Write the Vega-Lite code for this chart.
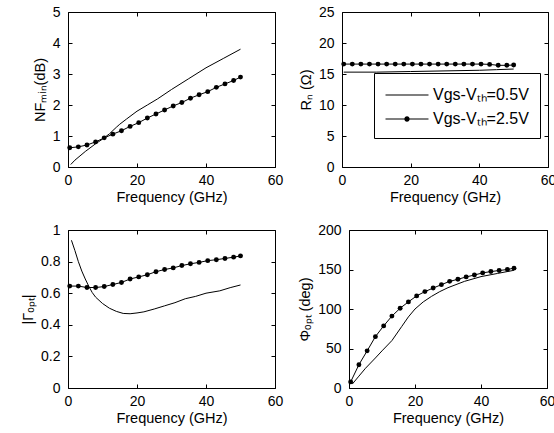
{
  "$schema": "https://vega.github.io/schema/vega-lite/v6.json",
  "padding": {"left": 20, "top": 4, "right": 5, "bottom": 5},
  "background": "white",
  "datasets": {
    "nf": [
      {"s": "0.5", "f": 0.8, "v": 0.08}, {"s": "0.5", "f": 2, "v": 0.22}, {"s": "0.5", "f": 5, "v": 0.5}, {"s": "0.5", "f": 8, "v": 0.75},
      {"s": "0.5", "f": 10, "v": 0.9}, {"s": "0.5", "f": 12, "v": 1.07}, {"s": "0.5", "f": 14, "v": 1.28}, {"s": "0.5", "f": 15, "v": 1.38},
      {"s": "0.5", "f": 17, "v": 1.55}, {"s": "0.5", "f": 20, "v": 1.8}, {"s": "0.5", "f": 23, "v": 2.0}, {"s": "0.5", "f": 26, "v": 2.2},
      {"s": "0.5", "f": 30, "v": 2.5}, {"s": "0.5", "f": 35, "v": 2.85}, {"s": "0.5", "f": 40, "v": 3.2}, {"s": "0.5", "f": 45, "v": 3.5}, {"s": "0.5", "f": 50, "v": 3.8},
      {"s": "2.5", "f": 0.5, "v": 0.62}, {"s": "2.5", "f": 3, "v": 0.65}, {"s": "2.5", "f": 5.5, "v": 0.71}, {"s": "2.5", "f": 8, "v": 0.81},
      {"s": "2.5", "f": 10.5, "v": 0.94}, {"s": "2.5", "f": 13, "v": 1.06}, {"s": "2.5", "f": 15.5, "v": 1.17}, {"s": "2.5", "f": 18, "v": 1.31},
      {"s": "2.5", "f": 20.5, "v": 1.43}, {"s": "2.5", "f": 23, "v": 1.58}, {"s": "2.5", "f": 25.5, "v": 1.71}, {"s": "2.5", "f": 28, "v": 1.84},
      {"s": "2.5", "f": 30.5, "v": 1.97}, {"s": "2.5", "f": 33, "v": 2.08}, {"s": "2.5", "f": 35.5, "v": 2.22}, {"s": "2.5", "f": 38, "v": 2.33},
      {"s": "2.5", "f": 40.5, "v": 2.43}, {"s": "2.5", "f": 43, "v": 2.57}, {"s": "2.5", "f": 45.5, "v": 2.68}, {"s": "2.5", "f": 48, "v": 2.79}, {"s": "2.5", "f": 50, "v": 2.9}
    ],
    "rn": [
      {"s": "0.5", "f": 0.5, "v": 15.3}, {"s": "0.5", "f": 10, "v": 15.3}, {"s": "0.5", "f": 20, "v": 15.4}, {"s": "0.5", "f": 30, "v": 15.5},
      {"s": "0.5", "f": 40, "v": 15.6}, {"s": "0.5", "f": 45, "v": 15.7}, {"s": "0.5", "f": 50, "v": 15.8},
      {"s": "2.5", "f": 0.5, "v": 16.6}, {"s": "2.5", "f": 3, "v": 16.6}, {"s": "2.5", "f": 5.5, "v": 16.6}, {"s": "2.5", "f": 8, "v": 16.6},
      {"s": "2.5", "f": 10.5, "v": 16.6}, {"s": "2.5", "f": 13, "v": 16.6}, {"s": "2.5", "f": 15.5, "v": 16.6}, {"s": "2.5", "f": 18, "v": 16.6},
      {"s": "2.5", "f": 20.5, "v": 16.6}, {"s": "2.5", "f": 23, "v": 16.6}, {"s": "2.5", "f": 25.5, "v": 16.6}, {"s": "2.5", "f": 28, "v": 16.6},
      {"s": "2.5", "f": 30.5, "v": 16.6}, {"s": "2.5", "f": 33, "v": 16.6}, {"s": "2.5", "f": 35.5, "v": 16.6}, {"s": "2.5", "f": 38, "v": 16.6},
      {"s": "2.5", "f": 40.5, "v": 16.6}, {"s": "2.5", "f": 43, "v": 16.55}, {"s": "2.5", "f": 45.5, "v": 16.4}, {"s": "2.5", "f": 48, "v": 16.4}, {"s": "2.5", "f": 50, "v": 16.45}
    ],
    "g": [
      {"s": "0.5", "f": 1, "v": 0.935}, {"s": "0.5", "f": 2, "v": 0.87}, {"s": "0.5", "f": 3, "v": 0.8}, {"s": "0.5", "f": 4, "v": 0.74},
      {"s": "0.5", "f": 5, "v": 0.69}, {"s": "0.5", "f": 6, "v": 0.645}, {"s": "0.5", "f": 7, "v": 0.605}, {"s": "0.5", "f": 8, "v": 0.575},
      {"s": "0.5", "f": 10, "v": 0.535}, {"s": "0.5", "f": 12, "v": 0.505}, {"s": "0.5", "f": 14, "v": 0.485}, {"s": "0.5", "f": 16, "v": 0.472},
      {"s": "0.5", "f": 18, "v": 0.47}, {"s": "0.5", "f": 20, "v": 0.475}, {"s": "0.5", "f": 22, "v": 0.482}, {"s": "0.5", "f": 25, "v": 0.5},
      {"s": "0.5", "f": 28, "v": 0.52}, {"s": "0.5", "f": 31, "v": 0.54}, {"s": "0.5", "f": 34, "v": 0.565}, {"s": "0.5", "f": 37, "v": 0.58},
      {"s": "0.5", "f": 40, "v": 0.6}, {"s": "0.5", "f": 44, "v": 0.615}, {"s": "0.5", "f": 47, "v": 0.635}, {"s": "0.5", "f": 50, "v": 0.652},
      {"s": "2.5", "f": 0.5, "v": 0.645}, {"s": "2.5", "f": 3, "v": 0.645}, {"s": "2.5", "f": 5.5, "v": 0.636}, {"s": "2.5", "f": 8, "v": 0.636},
      {"s": "2.5", "f": 10.5, "v": 0.642}, {"s": "2.5", "f": 13, "v": 0.655}, {"s": "2.5", "f": 15.5, "v": 0.668}, {"s": "2.5", "f": 18, "v": 0.69},
      {"s": "2.5", "f": 20.5, "v": 0.703}, {"s": "2.5", "f": 23, "v": 0.717}, {"s": "2.5", "f": 25.5, "v": 0.736}, {"s": "2.5", "f": 28, "v": 0.75},
      {"s": "2.5", "f": 30.5, "v": 0.76}, {"s": "2.5", "f": 33, "v": 0.775}, {"s": "2.5", "f": 35.5, "v": 0.786}, {"s": "2.5", "f": 38, "v": 0.795},
      {"s": "2.5", "f": 40.5, "v": 0.806}, {"s": "2.5", "f": 43, "v": 0.812}, {"s": "2.5", "f": 45.5, "v": 0.82}, {"s": "2.5", "f": 48, "v": 0.828}, {"s": "2.5", "f": 50, "v": 0.836}
    ],
    "ph": [
      {"s": "0.5", "f": 1, "v": 5}, {"s": "0.5", "f": 3, "v": 15}, {"s": "0.5", "f": 5, "v": 25}, {"s": "0.5", "f": 8, "v": 38},
      {"s": "0.5", "f": 10, "v": 47}, {"s": "0.5", "f": 13, "v": 60}, {"s": "0.5", "f": 16, "v": 78}, {"s": "0.5", "f": 18, "v": 90},
      {"s": "0.5", "f": 20, "v": 100}, {"s": "0.5", "f": 22.5, "v": 109}, {"s": "0.5", "f": 25, "v": 116}, {"s": "0.5", "f": 27.5, "v": 122},
      {"s": "0.5", "f": 30, "v": 127}, {"s": "0.5", "f": 35, "v": 135}, {"s": "0.5", "f": 40, "v": 141}, {"s": "0.5", "f": 45, "v": 145}, {"s": "0.5", "f": 50, "v": 149},
      {"s": "2.5", "f": 0.5, "v": 7.7}, {"s": "2.5", "f": 3, "v": 29.5}, {"s": "2.5", "f": 5.5, "v": 47}, {"s": "2.5", "f": 8, "v": 65},
      {"s": "2.5", "f": 10.5, "v": 78.6}, {"s": "2.5", "f": 13, "v": 91}, {"s": "2.5", "f": 15.5, "v": 101}, {"s": "2.5", "f": 18, "v": 109},
      {"s": "2.5", "f": 20.5, "v": 116.6}, {"s": "2.5", "f": 23, "v": 122}, {"s": "2.5", "f": 25.5, "v": 126.5}, {"s": "2.5", "f": 28, "v": 130.8},
      {"s": "2.5", "f": 30.5, "v": 135}, {"s": "2.5", "f": 33, "v": 137.6}, {"s": "2.5", "f": 35.5, "v": 140.6}, {"s": "2.5", "f": 38, "v": 143},
      {"s": "2.5", "f": 40.5, "v": 145.7}, {"s": "2.5", "f": 43, "v": 147.4}, {"s": "2.5", "f": 45.5, "v": 148.7}, {"s": "2.5", "f": 48, "v": 150}, {"s": "2.5", "f": 50, "v": 151.7}
    ]
  },
  "vconcat": [
    {
      "hconcat": [
        {
          "width": 207, "height": 155,
          "data": {"name": "nf"},
          "layer": [
            {"mark": {"type": "line", "color": "black", "strokeWidth": 1},
             "encoding": {
               "x": {"field": "f", "type": "quantitative", "scale": {"domain": [0, 60], "nice": false}, "axis": {"orient": "bottom", "values": [0, 20, 40, 60], "title": "Frequency (GHz)"}},
               "y": {"field": "v", "type": "quantitative", "scale": {"domain": [0, 5], "nice": false}, "axis": {"orient": "left", "values": [0, 1, 2, 3, 4, 5], "title": "NFₘᵢₙ(dB)"}},
               "detail": {"field": "s"}}},
            {"transform": [{"filter": "datum.s == '2.5'"}],
             "mark": {"type": "point", "filled": true, "color": "black", "size": 24, "opacity": 1},
             "encoding": {
               "x": {"field": "f", "type": "quantitative", "axis": {"orient": "top", "values": [0, 20, 40, 60], "labels": false, "title": null}},
               "y": {"field": "v", "type": "quantitative", "axis": {"orient": "right", "values": [0, 1, 2, 3, 4, 5], "labels": false, "title": null}}}}
          ],
          "resolve": {"axis": {"x": "independent", "y": "independent"}}
        },
        {
          "width": 206, "height": 155,
          "data": {"name": "rn"},
          "layer": [
            {"mark": {"type": "line", "color": "black", "strokeWidth": 1},
             "encoding": {
               "x": {"field": "f", "type": "quantitative", "scale": {"domain": [0, 60], "nice": false}, "axis": {"orient": "bottom", "values": [0, 20, 40, 60], "title": "Frequency (GHz)"}},
               "y": {"field": "v", "type": "quantitative", "scale": {"domain": [0, 25], "nice": false}, "axis": {"orient": "left", "values": [0, 5, 10, 15, 20, 25], "title": "Rₙ (Ω)"}},
               "detail": {"field": "s"}}},
            {"transform": [{"filter": "datum.s == '2.5'"}],
             "mark": {"type": "point", "filled": true, "color": "black", "size": 24, "opacity": 1},
             "encoding": {
               "x": {"field": "f", "type": "quantitative", "axis": {"orient": "top", "values": [0, 20, 40, 60], "labels": false, "title": null}},
               "y": {"field": "v", "type": "quantitative", "axis": {"orient": "right", "values": [0, 5, 10, 15, 20, 25], "labels": false, "title": null}}}},
            {"mark": {"type": "point", "filled": true, "color": "black", "size": 1, "opacity": 0},
             "encoding": {
               "x": {"field": "f", "type": "quantitative", "axis": null},
               "y": {"field": "v", "type": "quantitative", "axis": null},
               "shape": {"field": "s", "type": "nominal",
                 "scale": {"domain": ["0.5", "2.5"], "range": ["M-2,-0.05H2V0.05H-2Z", "M-2,-0.05H2V0.05H-2ZM0.25,0A0.25,0.25,0,1,1,-0.25,0A0.25,0.25,0,1,1,0.25,0Z"]},
                 "legend": {"orient": "none", "legendX": 32, "legendY": 61, "title": null,
                   "labelExpr": "'Vgs-Vₜₕ=' + datum.label + 'V'",
                   "strokeColor": "black", "fillColor": "white", "padding": 11,
                   "symbolSize": 462, "symbolStrokeWidth": 0, "symbolFillColor": "black", "symbolOpacity": 1,
                   "symbolOffset": 11,
                   "labelFont": "Liberation Sans", "labelFontSize": 16, "labelColor": "black", "labelOffset": 15, "rowPadding": 5, "labelLimit": 200}}}}
          ],
          "resolve": {"axis": {"x": "independent", "y": "independent"}}
        }
      ],
      "spacing": 13,
      "resolve": {"legend": {"shape": "independent"}}
    },
    {
      "hconcat": [
        {
          "width": 207, "height": 158,
          "data": {"name": "g"},
          "layer": [
            {"mark": {"type": "line", "color": "black", "strokeWidth": 1},
             "encoding": {
               "x": {"field": "f", "type": "quantitative", "scale": {"domain": [0, 60], "nice": false}, "axis": {"orient": "bottom", "values": [0, 20, 40, 60], "title": "Frequency (GHz)"}},
               "y": {"field": "v", "type": "quantitative", "scale": {"domain": [0, 1], "nice": false}, "axis": {"orient": "left", "values": [0, 0.2, 0.4, 0.6, 0.8, 1], "format": "~g", "title": "|Γₒₚₜ|"}},
               "detail": {"field": "s"}}},
            {"transform": [{"filter": "datum.s == '2.5'"}],
             "mark": {"type": "point", "filled": true, "color": "black", "size": 24, "opacity": 1},
             "encoding": {
               "x": {"field": "f", "type": "quantitative", "axis": {"orient": "top", "values": [0, 20, 40, 60], "labels": false, "title": null}},
               "y": {"field": "v", "type": "quantitative", "axis": {"orient": "right", "values": [0, 0.2, 0.4, 0.6, 0.8, 1], "labels": false, "title": null}}}}
          ],
          "resolve": {"axis": {"x": "independent", "y": "independent"}}
        },
        {
          "width": 198, "height": 158,
          "data": {"name": "ph"},
          "layer": [
            {"mark": {"type": "line", "color": "black", "strokeWidth": 1},
             "encoding": {
               "x": {"field": "f", "type": "quantitative", "scale": {"domain": [0, 60], "nice": false}, "axis": {"orient": "bottom", "values": [0, 20, 40, 60], "title": "Frequency (GHz)"}},
               "y": {"field": "v", "type": "quantitative", "scale": {"domain": [0, 200], "nice": false}, "axis": {"orient": "left", "values": [0, 50, 100, 150, 200], "title": "Φₒₚₜ (deg)"}},
               "detail": {"field": "s"}}},
            {"transform": [{"filter": "datum.s == '2.5'"}],
             "mark": {"type": "point", "filled": true, "color": "black", "size": 24, "opacity": 1},
             "encoding": {
               "x": {"field": "f", "type": "quantitative", "axis": {"orient": "top", "values": [0, 20, 40, 60], "labels": false, "title": null}},
               "y": {"field": "v", "type": "quantitative", "axis": {"orient": "right", "values": [0, 50, 100, 150, 200], "labels": false, "title": null}}}}
          ],
          "resolve": {"axis": {"x": "independent", "y": "independent"}}
        }
      ],
      "spacing": 13
    }
  ],
  "spacing": 18,
  "config": {
    "view": {"stroke": "black", "strokeWidth": 1},
    "font": "Liberation Sans",
    "axis": {
      "domain": false, "grid": false,
      "tickColor": "black", "tickSize": -4, "tickWidth": 1,
      "labelFont": "Liberation Sans", "labelFontSize": 14, "labelColor": "black",
      "labelFlush": false, "labelOverlap": false, "labelBound": false,
      "titleFont": "Liberation Sans", "titleFontSize": 14.5, "titleFontWeight": "normal", "titleColor": "black"
    },
    "axisX": {"labelPadding": 10, "titlePadding": 3},
    "axisY": {"labelPadding": 12, "titlePadding": 5}
  }
}
